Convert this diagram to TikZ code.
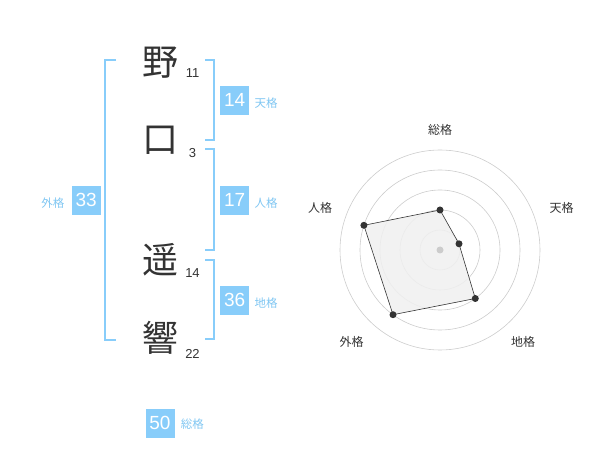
\documentclass[tikz,border=0pt]{standalone}
\usepackage{fontspec}
\setmainfont{Liberation Sans}
\newfontfamily\cjk{Noto Sans CJK JP}
\usepackage{tikz}
\usetikzlibrary{positioning}

\definecolor{kakublue}{HTML}{88CDFA}
\definecolor{kakutext}{HTML}{7FC6F2}
\definecolor{charcol}{HTML}{333333}
\definecolor{ringcol}{HTML}{CCCCCC}
\definecolor{polyfill}{HTML}{F0F0F0}

\tikzset{
  kanji/.style={text=charcol, font=\cjk\fontsize{36}{36}\selectfont, inner sep=0},
  strokes/.style={text=charcol, font=\fontsize{13}{13}\selectfont, inner sep=0},
  kakubox/.style={fill=kakublue, text=white, minimum size=29pt, inner sep=0, font=\fontsize{19}{19}\selectfont},
  kakulabel/.style={text=kakutext, font=\cjk\fontsize{11.5}{12}\selectfont, inner sep=0},
  bracket/.style={draw=kakublue, line width=1.7pt},
  ring/.style={draw=ringcol, line width=0.6pt},
  axislabel/.style={text=charcol, font=\cjk\fontsize{12}{12}\selectfont, inner sep=0},
  dot/.style={circle, fill=charcol, minimum size=7pt, inner sep=0}
}

\begin{document}
\begin{tikzpicture}[x=1pt, y=-1pt]
    \useasboundingbox (0,0) rectangle (600,470);

    % name
    \node[kanji] (k1) at (160, 63) {野};
    \node[kanji] (k2) at (160, 140) {口};
    \node[kanji] (k3) at (160, 260) {遥};
    \node[kanji] (k4) at (160, 338) {響};
    \node[strokes] (s1) at (192.5, 73.5) {11};
    \node[strokes] (s2) at (192.5, 153.5) {3};
    \node[strokes] (s3) at (192.5, 273.5) {14};
    \node[strokes] (s4) at (192.5, 353.5) {22};

    % brackets
    \coordinate (gTop) at (105, 60);
    \coordinate (gBot) at (105, 340);
    \coordinate (tTop) at (214, 60);
    \coordinate (tBot) at (214, 140);
    \coordinate (jTop) at (214, 149);
    \coordinate (jBot) at (214, 250);
    \coordinate (cTop) at (214, 260);
    \coordinate (cBot) at (214, 339);
    \draw[bracket] ([xshift=11pt]gTop) -- (gTop) -- (gBot) -- ([xshift=11pt]gBot);
    \draw[bracket] ([xshift=-9pt]tTop) -- (tTop) -- (tBot) -- ([xshift=-9pt]tBot);
    \draw[bracket] ([xshift=-9pt]jTop) -- (jTop) -- (jBot) -- ([xshift=-9pt]jBot);
    \draw[bracket] ([xshift=-9pt]cTop) -- (cTop) -- (cBot) -- ([xshift=-9pt]cBot);

    % kaku values
    \node[kakubox] (ten) at (234.7, 100.3) {14};
    \node[kakubox] (jin) at (234.7, 200.3) {17};
    \node[kakubox] (chi) at (234.7, 300.3) {36};
    \node[kakubox] (gai) at (86.2, 200.3) {33};
    \node[kakubox] (sou) at (160, 423.3) {50};
    \node[kakulabel, right=5pt of ten, yshift=-3pt] (tenL) {天格};
    \node[kakulabel, right=5pt of jin, yshift=-3pt] (jinL) {人格};
    \node[kakulabel, right=5pt of chi, yshift=-3pt] (chiL) {地格};
    \node[kakulabel, left=7pt of gai, yshift=-3pt] (gaiL) {外格};
    \node[kakulabel, right=6pt of sou, yshift=-1pt] (souL) {総格};

    % radar
    \coordinate (c) at (440, 250);
    \draw[ring] (c) circle (20);
    \draw[ring] (c) circle (40);
    \draw[ring] (c) circle (60);
    \draw[ring] (c) circle (80);
    \draw[ring] (c) circle (100);
    \coordinate (pSou) at (440, 210);
    \coordinate (pTen) at (459.0, 243.8);
    \coordinate (pChi) at (475.3, 298.5);
    \coordinate (pGai) at (393.0, 314.7);
    \coordinate (pJin) at (363.9, 225.3);
    \filldraw[fill=polyfill, fill opacity=0.85, draw=charcol, line width=0.6pt]
        (pSou) -- (pTen) -- (pChi) -- (pGai) -- (pJin) -- cycle;
    \node[circle, fill=ringcol, minimum size=7pt, inner sep=0] (mid) at (c) {};
    \node[dot] (dSou) at (pSou) {};
    \node[dot] (dTen) at (pTen) {};
    \node[dot] (dChi) at (pChi) {};
    \node[dot] (dGai) at (pGai) {};
    \node[dot] (dJin) at (pJin) {};
    \node[axislabel] (aSou) at (440, 130) {総格};
    \node[axislabel] (aTen) at (561.7, 208.3) {天格};
    \node[axislabel] (aChi) at (523, 341.7) {地格};
    \node[axislabel] (aGai) at (351.7, 341.7) {外格};
    \node[axislabel] (aJin) at (320, 208.3) {人格};
\end{tikzpicture}
\end{document}
